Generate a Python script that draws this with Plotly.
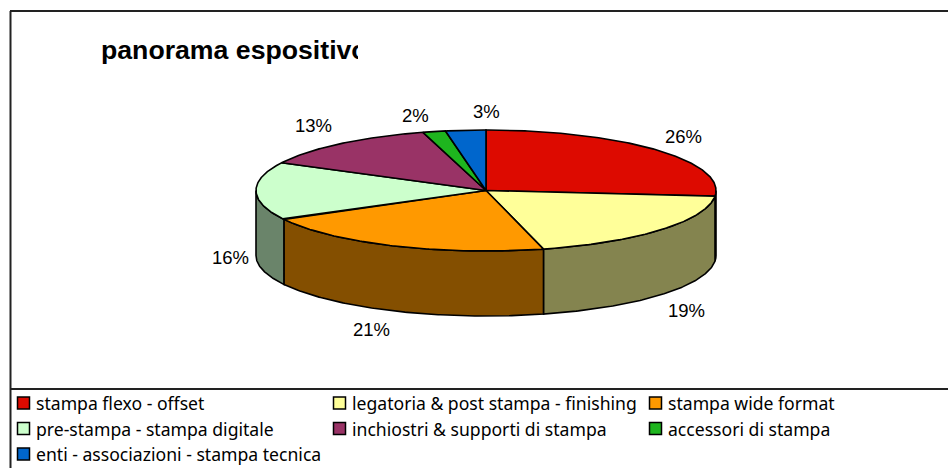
import math
import plotly.graph_objects as go

# ---- data ----
title_text = "panorama espositivo"
categories = ["stampa flexo - offset", "legatoria & post stampa - finishing", "stampa wide format",
              "pre-stampa - stampa digitale", "inchiostri & supporti di stampa", "accessori di stampa",
              "enti - associazioni - stampa tecnica"]
values = [26.49, 19.49, 21.1, 15.5, 13.0, 1.6, 2.82]
pct_labels = ["26%", "19%", "21%", "16%", "13%", "2%", "3%"]
colors = ["#DD0A00", "#FFFF99", "#FF9900", "#CCFFCC", "#993366", "#1EB51E", "#0066CC"]

# ---- style / layout ----
W, H = 948, 468
CX, CY, RX, RY, DEPTH = 486, 190.5, 230, 60.5, 65
LBL_RX, LBL_RY = 262, 80
SHADE = 0.52
LABEL_NUDGE = [(4, 0), (1, 3), (-10, 1), (6, 1), (-7, -3), (-11, 3), (24, 1)]
LEGEND_COLS = [23.5, 339.5, 655.5]
LEGEND_ROWS = [403, 428.5, 454]
LEGEND_FONT = "Noto Sans"
LABEL_FONT = "Liberation Sans"
EDGE = "#000000"


def darker(c):
    r, g, b = (int(c[i:i + 2], 16) for i in (1, 3, 5))
    return f"rgb({int(r * SHADE)},{int(g * SHADE)},{int(b * SHADE)})"


def pt(theta, dz=0):
    return CX + RX * math.sin(theta), CY - RY * math.cos(theta) + dz


def arc(a, b, dz=0):
    n = max(2, int(abs(b - a) / 0.01))
    return [pt(a + (b - a) * i / n, dz) for i in range(n + 1)]


total = sum(values)
angles = [0.0]
for v in values:
    angles.append(angles[-1] + 2 * math.pi * v / total)

fig = go.Figure()


def poly(points, fill):
    fig.add_trace(go.Scatter(
        x=[p[0] for p in points] + [points[0][0]],
        y=[p[1] for p in points] + [points[0][1]],
        mode="lines", fill="toself", fillcolor=fill,
        line=dict(color=EDGE, width=1.6), hoverinfo="skip", showlegend=False))


# side walls (front half of the cake only)
for i in range(len(values)):
    a = max(angles[i], math.pi / 2)
    b = min(angles[i + 1], 3 * math.pi / 2)
    if b > a:
        poly(arc(a, b) + arc(b, a, DEPTH), darker(colors[i]))

# top faces
for i in range(len(values)):
    poly([(CX, CY)] + arc(angles[i], angles[i + 1]), colors[i])

# percentage labels, placed around the cake from each slice's mid angle
annotations = []
for i, lab in enumerate(pct_labels):
    m = (angles[i] + angles[i + 1]) / 2
    dz = DEPTH if math.cos(m) < 0 else 0
    dx, dy = LABEL_NUDGE[i]
    annotations.append(dict(
        x=CX + LBL_RX * math.sin(m) + dx, y=CY - LBL_RY * math.cos(m) + dz + dy,
        text=lab, showarrow=False, xref="x", yref="y",
        xanchor="center", yanchor="middle",
        font=dict(family=LABEL_FONT, size=18.5, color="#000000")))

# legend: three columns, filled row by row
sw_x, sw_y = [], []
for i, name in enumerate(categories):
    x = LEGEND_COLS[i % 3]
    y = LEGEND_ROWS[i // 3]
    sw_x.append(x)
    sw_y.append(y)
    annotations.append(dict(
        x=x + 10, y=y, text=name, showarrow=False, xref="x", yref="y",
        xanchor="left", yanchor="middle",
        font=dict(family=LEGEND_FONT, size=17.6, color="#000000")))
fig.add_trace(go.Scatter(
    x=sw_x, y=sw_y, mode="markers", hoverinfo="skip", showlegend=False,
    marker=dict(symbol="square", size=12, color=colors, line=dict(color="#000000", width=1.5))))

# clipped title
annotations.append(dict(
    x=101, y=49.5, text=f"<b>{title_text}</b>", showarrow=False, xref="x", yref="y",
    xanchor="left", yanchor="middle", align="left", width=257, height=36, borderpad=0, borderwidth=0,
    font=dict(family="Liberation Sans", size=26.67, color="#000000")))

frame = dict(color="#222222", width=2)
shapes = [
    dict(type="line", xref="x", yref="y", x0=10.5, x1=10.5, y0=11, y1=H, line=frame),
    dict(type="line", xref="x", yref="y", x0=10, x1=W, y0=11, y1=11, line=frame),
    dict(type="line", xref="x", yref="y", x0=10, x1=W, y0=389, y1=389, line=frame),
]

fig.update_layout(
    width=W, height=H, margin=dict(l=0, r=0, t=0, b=0),
    paper_bgcolor="#FFFFFF", plot_bgcolor="#FFFFFF",
    xaxis=dict(range=[0, W], visible=False, fixedrange=True),
    yaxis=dict(range=[H, 0], visible=False, fixedrange=True),
    annotations=annotations, shapes=shapes, showlegend=False)

fig.write_html("out.html", config={"displayModeBar": False},
               post_script="document.body.style.margin='0';document.body.style.overflow='hidden';")
